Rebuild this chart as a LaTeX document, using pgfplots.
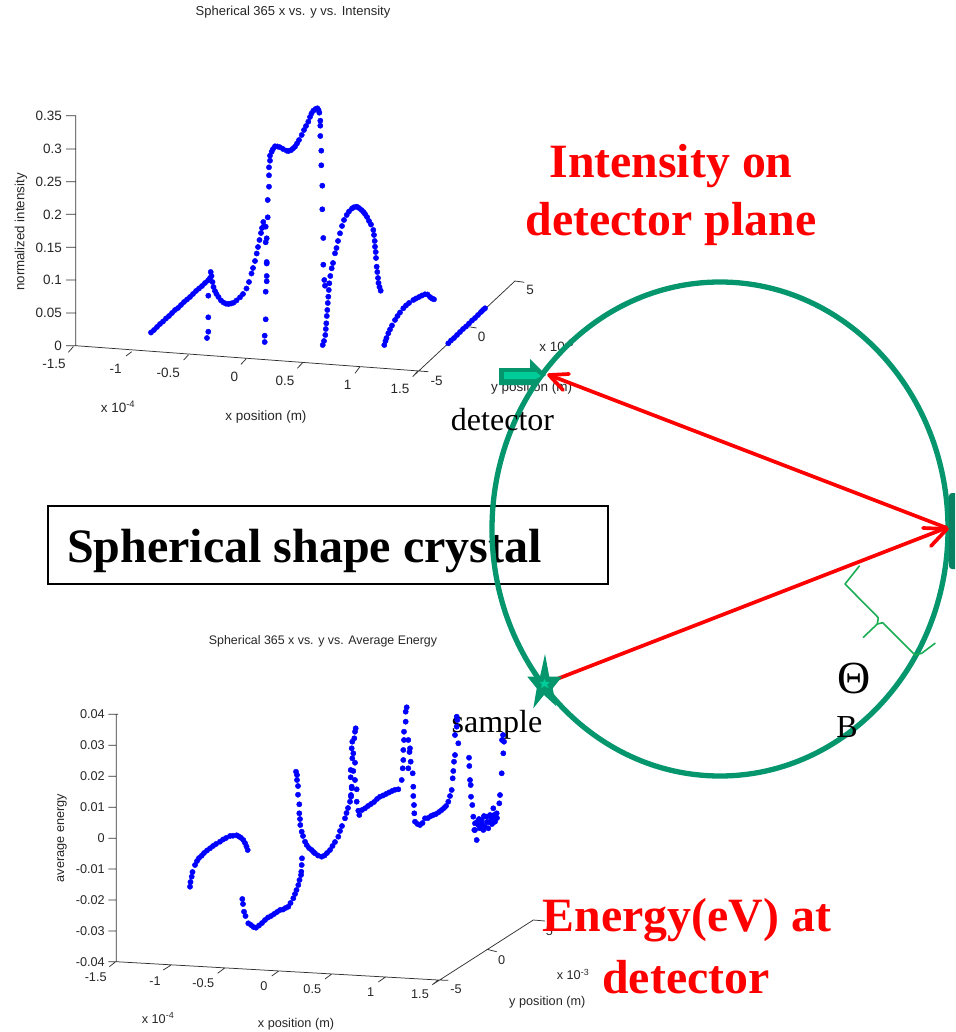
\documentclass[border=0pt]{standalone}
\usepackage{pgfplots}
\usepackage{pgfplotstable}
\usepackage{fontspec}
\pgfplotsset{compat=1.18}
\setmainfont{Liberation Sans}
\newfontfamily\serifx{Liberation Serif}
\definecolor{ring}{RGB}{5,150,110}
\definecolor{ringlight}{RGB}{0,204,153}
\definecolor{brace}{RGB}{26,175,84}
\definecolor{slab}{RGB}{8,130,98}
\definecolor{axisgray}{RGB}{50,50,50}
\newcommand{\sz}[1]{\fontsize{#1}{#1}\selectfont}
% pixel coordinates of the picture, y counted from the top
\pgfplotstableread{
x y
151 332.5
154 330
157 327
160 324
163 321.5
166 318.5
169 316
172 313
175 310
178 308
181 305
184 302
187 299.5
190 297
193 294
196 291
199 288.5
202 286
205 283
208 280.5
210 278
210.7 272
211.5 276
212.5 282
213.5 287
215 291
216.5 294
218.5 297
221 300.5
223.5 302.5
226 303.7
228.5 304
231 303.5
233.5 302.7
236.5 300.5
240 297.3
243 294
246.5 288.5
249 282
251.5 273.5
253 268
255 261
256.7 253.5
258 247
259.5 240
261 233
262 228
263.3 222
207 338
208.3 331.7
208.3 317.3
208.3 295.7
264.7 342
264.7 335.7
265.7 319.3
265.7 291.7
266.7 281.3
266.7 276
266.7 263.5
266.7 262
266.7 238.3
265.7 242.3
265.7 226.7
263.5 226.7
267.7 217.3
267.7 200
269 186.7
269 175.3
269 167.3
270 160.7
270 155.7
271.7 151.7
273 149
275 146.3
277.5 146.5
280 147.3
283 149
286.7 150.7
288.5 151
291 150.2
293 148.5
295 146.7
297 143.5
299 140
301.7 135
304 130
306 126
308.3 121.7
310 117
311.5 113.5
313.3 110.7
315.5 109
317.3 108.3
318.5 110
319.3 112.7
320.3 120.7
320.3 125.7
320.3 136
321.3 150.7
321.3 165.3
322.3 185.7
322.3 209.3
323.3 238
323.3 264.7
324.3 280
325 285.7
322.7 345
324 341
325.3 335
325.8 329
326.3 323.3
326.8 316
327.3 310
327.8 303
328.3 296.7
328.8 290
329.3 283.3
330.3 276
331.7 268.3
333 263
335 253.3
336.5 248
338 241
340 233.3
342 226
344 220
346.7 215
349 211.5
352 208.5
354 207.2
356.7 206.7
359 208
361.5 210
363.5 212
365 214
367 217
369 221
371 224.5
373.3 230
374 235
374.7 241
375 246.7
375.7 252
376 258
376.7 266.7
377.3 272
378 278
378.5 283
379.5 287
380.7 290.7
384.3 345
385.5 341
386.5 338
388.3 333.3
390 329.5
392 325.5
395 320
397.5 316
400 312.5
403.3 308.3
406 305.5
409 303
413.3 300
416 298.5
419 297
422 295.5
425 294.3
427.5 294.5
430 297
432 298.5
434 299.3
448.3 343.3
451 340.5
454 338
457 335
460 332
463 329
466 326.5
469 323.5
472 320.5
475 318
478 315
481 312
483 310
485 308.3
}\intensitypoints
\pgfplotstableread{
x y
190 886.7
190.5 882
191.7 876.7
192.5 872
195 865
197 861
199 858
201.7 855.7
204 853
207 850.5
210 848.3
213 846
216 844
220 841.7
223 839.5
226 838
230 836
233 835.7
236.7 835.3
239 836.5
241 837.8
243.3 840
245 843
246.5 846.5
247.7 850
242.3 899
243 904
244 911.7
245.5 916
248.3 923.3
251 925
253.5 927
256 927.7
259 925.5
262 923
265 920
268 917.5
271 916
274 914
277 912
280 910
283 909.5
285.5 908
288.3 906.7
290.5 903
293.3 898.3
295 894
296.5 890
298.3 885
299.5 880
301 875
301.3 871.7
301.7 865
302 858.3
296 771.7
297 775
297 780
298 786
298 794.7
299.3 804.3
299.3 813.3
300 819
300.3 825
301.7 831.7
303 836
305 841.7
306.7 845
309 848
311.7 850
313.5 852
315 853.3
318 855.5
321.7 856.7
324.5 855.5
327 853
330 850
332.5 846
335 842
338.3 836.7
340 831
342 826
345 818.3
346.5 813
348 808
350 801.7
351 795
351.7 788.3
355.7 728.3
355 731.7
354.3 738.3
352.3 741.7
351.7 748.3
353.3 753.3
352.3 758.3
355 762.7
350.7 770
353.3 771
350.7 777.3
355 780
351.7 786.7
356.7 789.3
351 796.7
356.7 801.7
359.3 815
358.3 810.7
362 810
365 808.3
368 806
371 804
374 802
377 799
380 796.7
383 795.5
386 794
389 792.5
392 791
395 789.8
398.3 789.3
401.7 780
402.7 768.3
403.3 760
403.3 750
404 740
404 731.7
405.7 721.7
405.7 711.7
406.7 707.3
408.3 740
410 748.3
409.5 752
410.7 761.7
408.3 768.3
412.7 773.3
413.3 786.7
413.3 796
414 805
414.3 813.3
415 821.7
417.5 824
420 825
422.5 823
425 818.3
428 818
431 816
433.3 815
436 814
439 812
441.7 810
444 808
446 806
448.3 801.7
450 796
451.7 790
452.7 778.3
453.3 771
454 761.7
455 755
458.3 743.3
455 735
456.7 726.7
457.3 720
456.7 716.7
469 757.7
469.3 766
470 780
470.7 785
471 796.7
472.3 805
473.3 816.7
474.3 830
476.7 840
475 823.3
478.3 825
481.7 820
485 826.7
488.3 828.3
491.7 818.3
495 821.7
496.7 813.3
493.3 808.3
499.3 803.3
500 795
501.7 773.3
503.3 753.3
504 741.7
475 830
480 828.3
483.3 830
486.7 816.7
490 815
477 822
479 819
482 824
484 816
487 822
489 822
492 824
494 815
497 818
502 740
503 735
}\energypoints
% axis lines and tick marks of the two panels
\pgfplotstableread{
x y
66 115.7
75.7 115.7
75.7 345.7
419.3 371
428.3 371.7
nan nan
66 149
75.7 149
nan nan
66 181.7
75.7 181.7
nan nan
66 214.3
75.7 214.3
nan nan
66 247.3
75.7 247.3
nan nan
66 280
75.7 280
nan nan
66 313
75.7 313
nan nan
66 345.7
75.7 345.7
nan nan
73.3 346.7
68.3 352.3
nan nan
131.7 351.7
126 356
nan nan
188.3 355
183.7 360
nan nan
246 359
241 364.3
nan nan
302.7 362.7
297.3 368.3
nan nan
360 366.7
355 373.3
nan nan
417.7 371
412.7 376.7
nan nan
413.3 376
515 281
524.3 282.3
nan nan
468.3 326.7
476.7 328
nan nan
108.3 714.3
118 714.3
nan nan
116.3 714.3
116.3 961.7
438.3 980
448.3 980.3
nan nan
108.3 745.3
116.3 745.3
nan nan
108.3 776.3
116.3 776.3
nan nan
108.3 807.3
116.3 807.3
nan nan
108.3 838.3
116.3 838.3
nan nan
108.3 869
116.3 869
nan nan
108.3 900
116.3 900
nan nan
108.3 931
116.3 931
nan nan
108.3 961.7
116.3 961.7
nan nan
115 962.3
109.3 966.7
nan nan
170.7 965.3
163.3 970
nan nan
224.3 968.3
217.7 973.3
nan nan
278.7 971
271.7 976
nan nan
331.7 974
325 979
nan nan
386 976.7
378.3 982
nan nan
438.3 980
432.3 984.7
nan nan
432.3 984.7
533.3 920
545 921
nan nan
486.7 949.3
496.7 951.7
}\frames
\newcommand{\lb}[3]{\node[font=\sz{13.5},text=black!85,inner sep=0pt] at (axis cs:#1,#2) {#3};}
\newcommand{\lr}[3]{\node[font=\sz{13.5},text=black!85,inner sep=0pt,anchor=east] at (axis cs:#1,#2) {#3};}
\newcommand{\mb}[3]{\node[font=\sz{12.7},text=black!85,inner sep=0pt] at (axis cs:#1,#2) {#3};}
\newcommand{\mr}[3]{\node[font=\sz{12.7},text=black!85,inner sep=0pt,anchor=east] at (axis cs:#1,#2) {#3};}
\begin{document}
\begin{tikzpicture}[x=1pt,y=1pt]
\path[use as bounding box] (0,0) rectangle (955,1032);
\begin{axis}[
  at={(0,0)},anchor=south west,
  scale only axis,width=955pt,height=1032pt,
  xmin=0,xmax=955,ymin=0,ymax=1032,y dir=reverse,
  hide axis,clip=true,unbounded coords=jump]
% panels
\addplot[axisgray,line width=0.75pt,mark=none] table[x=x,y=y] {\frames};
\addplot[only marks,mark=*,mark size=2.65pt,color=blue,mark options={draw=blue,fill=blue}] table[x=x,y=y] {\intensitypoints};
\addplot[only marks,mark=*,mark size=2.65pt,color=blue,mark options={draw=blue,fill=blue}] table[x=x,y=y] {\energypoints};
% panel texts
\node[font=\sz{13},inner sep=0pt,text=black!85] at (axis cs:293,12.5) {Spherical 365 x vs. y vs. Intensity};
\node[font=\sz{12.4},inner sep=0pt,text=black!85] at (axis cs:323,641.5) {Spherical 365 x vs. y vs. Average Energy};
\lr{62}{116}{0.35}\lr{62}{149}{0.3}\lr{62}{182}{0.25}\lr{62}{214.5}{0.2}\lr{62}{247.5}{0.15}\lr{62}{280}{0.1}\lr{62}{313}{0.05}\lr{62}{346}{0}
\lb{54}{364}{-1.5}\lb{115.7}{368.7}{-1}\lb{168.3}{372.7}{-0.5}\lb{234.3}{376.7}{0}\lb{285}{380.7}{0.5}\lb{347.7}{384.7}{1}\lb{400}{388.7}{1.5}
\lb{436.7}{380.7}{-5}\lb{481.7}{336.7}{0}\lb{530}{290}{5}
\lb{118}{407}{x 10\textsuperscript{-4}}
\lb{266}{417}{x position (m)}
\lb{556.7}{346}{x 10\textsuperscript{-3}}
\lb{531.7}{387.7}{y position (m)}
\node[font=\sz{13.3},text=black!85,inner sep=0pt,rotate=90] at (axis cs:21,232) {normalized intensity};
\mr{105}{714.5}{0.04}\mr{105}{745.5}{0.03}\mr{105}{776.5}{0.02}\mr{105}{807.5}{0.01}\mr{105}{838.5}{0}\mr{105}{869}{-0.01}\mr{105}{900}{-0.02}\mr{105}{931}{-0.03}\mr{105}{962}{-0.04}
\mb{95.7}{976.7}{-1.5}\mb{155}{980.7}{-1}\mb{203.3}{982.7}{-0.5}\mb{264}{985.7}{0}\mb{312.3}{989}{0.5}\mb{370.7}{991.7}{1}\mb{420}{994.3}{1.5}
\mb{456}{989}{-5}\mb{501.7}{960}{0}\mb{549.3}{930.7}{5}
\mb{158}{1018}{x 10\textsuperscript{-4}}
\mb{296}{1024}{x position (m)}
\mb{573}{974.5}{x 10\textsuperscript{-3}}
\mb{547.3}{1002.3}{y position (m)}
\node[font=\sz{12.7},text=black!85,inner sep=0pt,rotate=90] at (axis cs:62,838) {average energy};
% box and its caption
\draw[black,line width=1.4pt] (axis cs:48,506) rectangle (axis cs:608,584);
\node[font=\serifx\bfseries\sz{48},inner sep=0pt,anchor=west] at (axis cs:67,551) {Spherical shape crystal};
% crystal circle
\draw[ring,line width=5.3pt] (axis cs:720,529) ellipse [x radius=228,y radius=247];
% crystal slab at the right edge
\fill[slab,rounded corners=3pt] (axis cs:949,493) rectangle (axis cs:962,569);
% rays
\draw[red,line width=3.7pt] (axis cs:947,528) -- (axis cs:549,375);
\draw[red,line width=3.7pt,line cap=round,line join=round] (axis cs:569,374) -- (axis cs:549,375) -- (axis cs:563,390);
\draw[red,line width=3.7pt] (axis cs:557,679) -- (axis cs:946,528);
\draw[red,line width=3.7pt,line cap=round,line join=round] (axis cs:923,528) -- (axis cs:947,529) -- (axis cs:931,546);
% theta bracket
\draw[brace,line width=1.6pt,line cap=round,line join=round] (axis cs:859.3,566) -- (axis cs:845,584) -- (axis cs:878.3,617.7) -- (axis cs:877.3,624) -- (axis cs:863.3,637.3);
\draw[brace,line width=1.6pt,line cap=round,line join=round] (axis cs:877.3,624) -- (axis cs:882.7,622.7) -- (axis cs:915,655) -- (axis cs:921.7,653.3) -- (axis cs:935,643.3);
% detector arrow
\fill[ring] (axis cs:499,368) -- (axis cs:530,368) -- (axis cs:530,359) -- (axis cs:546,375) -- (axis cs:533,385) -- (axis cs:499,385) -- cycle;
\fill[ringlight] (axis cs:504,372) -- (axis cs:536,372) -- (axis cs:541,376) -- (axis cs:536,379) -- (axis cs:504,379) -- cycle;
% sample star
\fill[ring] (axis cs:545,654) -- (axis cs:549.3,676.7) -- (axis cs:562,676.7) -- (axis cs:552.7,688.3) -- (axis cs:556,706) -- (axis cs:544,695) -- (axis cs:533.3,708.3) -- (axis cs:536.7,688.3) -- (axis cs:527.3,676.7) -- (axis cs:540,676.7) -- cycle;
\fill[ringlight] (axis cs:544.5,679) -- (axis cs:546,682) -- (axis cs:549.5,682) -- (axis cs:547,684.5) -- (axis cs:548.5,688) -- (axis cs:544.5,686) -- (axis cs:541,688) -- (axis cs:542,684.5) -- (axis cs:539.5,682) -- (axis cs:543,682) -- cycle;
% big labels
\node[font=\serifx\bfseries\sz{47.8},text=red,inner sep=0pt] at (axis cs:671,166.5) {Intensity on};
\node[font=\serifx\bfseries\sz{47.8},text=red,inner sep=0pt] at (axis cs:671,224) {detector plane};
\node[font=\serifx\bfseries\sz{47.8},text=red,inner sep=0pt] at (axis cs:687,920) {Energy(eV) at};
\node[font=\serifx\bfseries\sz{47.8},text=red,inner sep=0pt] at (axis cs:686,977) {detector};
\node[font=\serifx\sz{32},inner sep=0pt] at (axis cs:502.5,420) {detector};
\node[font=\serifx\sz{32},inner sep=0pt] at (axis cs:497,725) {sample};
\node[font=\serifx\sz{46},inner sep=0pt] at (axis cs:854,678) {Θ};
\node[font=\serifx\sz{32},inner sep=0pt] at (axis cs:847,727) {B};
\end{axis}
\end{tikzpicture}
\end{document}
